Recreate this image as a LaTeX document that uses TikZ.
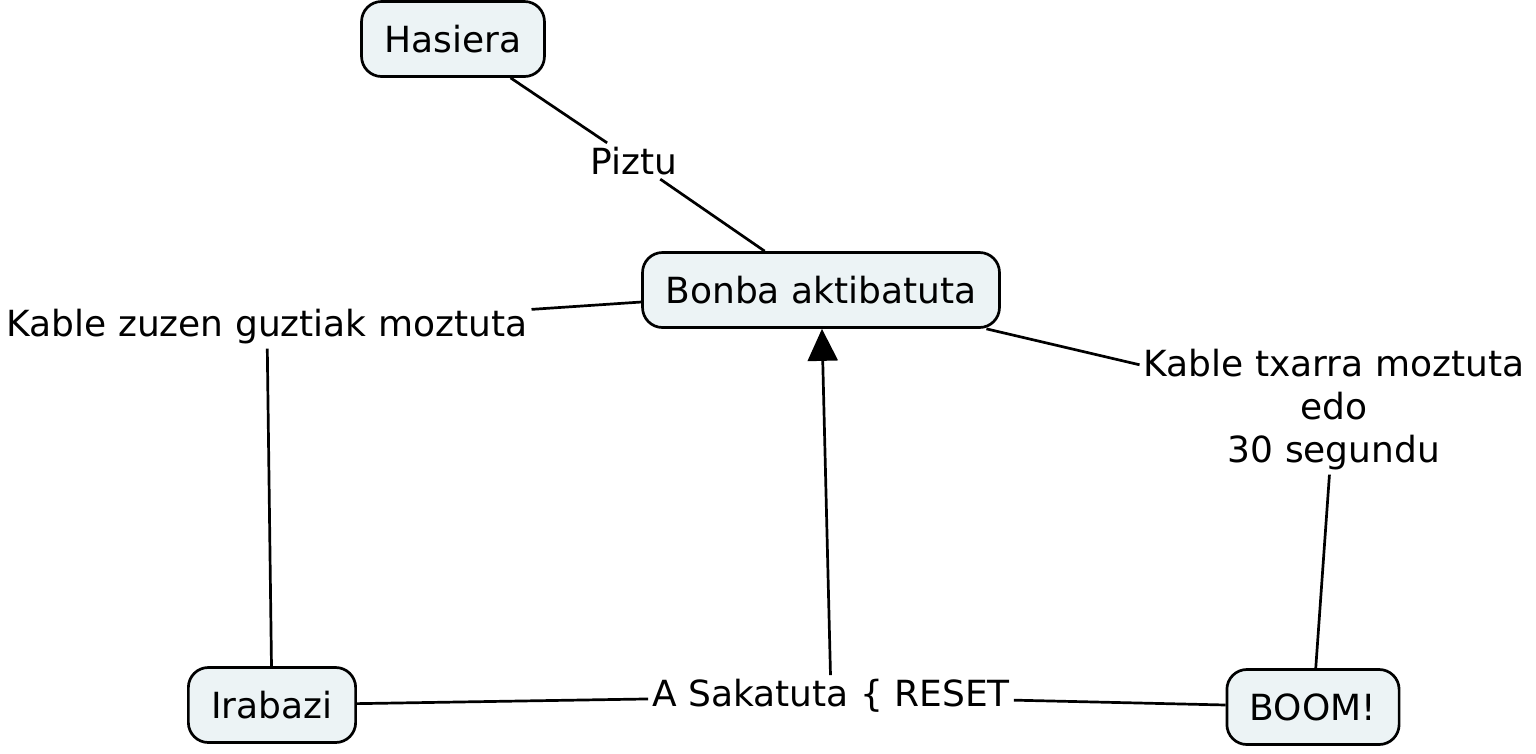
\documentclass[tikz,border=0pt]{standalone}
\usepackage{fontspec}
\setmainfont{DejaVu Sans}
\usetikzlibrary{arrows.meta,positioning}
\definecolor{conceptfill}{RGB}{236,243,245}

\begin{document}
\begin{tikzpicture}[x=1pt, y=-1pt,
    concept/.style={rectangle, draw, line width=2.7pt, rounded corners=20pt, fill=conceptfill, minimum height=75pt, inner xsep=23pt, font=\fontsize{36}{43}\selectfont},
    phrase/.style={rectangle, inner sep=4pt, align=center, font=\fontsize{36}{43}\selectfont},
    link/.style={line width=2.7pt},
    arrow/.style={link, -{Triangle[width=30pt, length=32pt]}}
]
    \useasboundingbox (0,0) rectangle (1536,753);

    % Kontzeptuak
    \node[concept] (hasiera) at (453,39) {Hasiera};
    \node[concept] (bonba) at (821,290) {Bonba aktibatuta};
    \node[concept] (irabazi) at (272,705) {Irabazi};
    \node[concept] (boom) at (1313,707) {BOOM!};

    % Lotura esaldiak
    \node[phrase] (piztu) at (634,161) {Piztu};
    \node[phrase] (zuzen) at (267,327) {Kable zuzen guztiak moztuta};
    \node[phrase] (txarra) at (1334,410) {Kable txarra moztuta\\edo\\30 segundu};
    \node[phrase] (reset) at (831,696) {A Sakatuta \{ RESET};

    % Loturak
    \draw[link] (hasiera) -- (piztu);
    \draw[link] (piztu) -- (bonba);
    \draw[link] (bonba) -- (zuzen);
    \draw[link] (zuzen) -- (irabazi);
    \draw[link] (bonba) -- (txarra);
    \draw[link] (txarra) -- (boom);
    \draw[link] (irabazi) -- (reset);
    \draw[link] (boom) -- (reset);
    \draw[arrow] (reset) -- (bonba);
\end{tikzpicture}
\end{document}
